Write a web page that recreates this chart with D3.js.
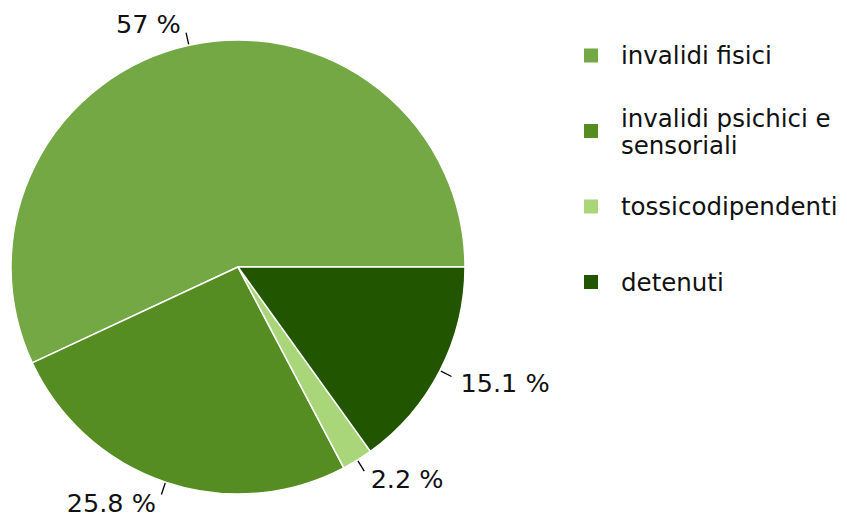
<!DOCTYPE html>
<html>
<head>
<meta charset="utf-8">
<script src="https://cdn.jsdelivr.net/npm/d3@7"></script>
<style>
body{margin:0;background:#fff;}
svg{display:block;font-family:"DejaVu Sans",sans-serif;}
</style>
</head>
<body>
<svg id="svg" width="847" height="517"></svg>
<script>
var categories=['invalidi fisici','invalidi psichici e|sensoriali','tossicodipendenti','detenuti'];
var values=[57,25.8,2.2,15.1];
var colors=['#73a845','#558d23','#aad67a','#225500'];

var svg=d3.select("#svg");
var cx=238,cy=267,r=227;

var data=categories.map(function(c,i){return {name:c,value:values[i],color:colors[i]};});

// start at 3 o'clock, go counterclockwise
var pie=d3.pie().sort(null).value(function(d){return d.value;})
.startAngle(Math.PI/2).endAngle(Math.PI/2-2*Math.PI);

var arc=d3.arc().innerRadius(0).outerRadius(r);

var g=svg.append("g").attr("transform","translate("+cx+","+cy+")");
var arcs=pie(data);

g.selectAll("path").data(arcs).enter()
.append("path")
.attr("d",arc)
.attr("fill",function(d){return d.data.color;})
.attr("stroke","#fff")
.attr("stroke-width",1.5)
.attr("stroke-linejoin","round");

// labels with little ticks
arcs.forEach(function(d){
	var a=(d.startAngle+d.endAngle)/2;
	var sx=Math.sin(a),sy=-Math.cos(a);
	var x1=sx*(r+1),y1=sy*(r+1),x2=sx*(r+13),y2=sy*(r+13);
	g.append("line").attr("x1",x1).attr("y1",y1).attr("x2",x2).attr("y2",y2)
	.attr("stroke","#000").attr("stroke-width",1.3);
	var off=5+5*sx*sx;
	g.append("text")
	.attr("x",x2+(sx>0?off:-off))
	.attr("y",sy<0?y2:y2+13+5*Math.abs(sy))
	.attr("text-anchor",sx>0?"start":"end")
	.attr("font-size",25.5)
	.attr("fill","#111")
	.text(d.data.value+" %");
});

// legend
var legend=svg.append("g");
var ly=d3.scaleLinear().domain([0,3]).range([55.5,282]);
data.forEach(function(d,i){
	var y=ly(i);
	legend.append("rect").attr("x",584).attr("y",y-7).attr("width",14).attr("height",14)
	.attr("fill",d.color);
	var lines=d.name.split("|");
	var t=legend.append("text").attr("font-size",24.5).attr("fill","#111");
	lines.forEach(function(l,j){
		t.append("tspan").attr("x",621)
		.attr("y",lines.length>1?y-4+j*26.5:y+8.5)
		.text(l);
	});
});
</script>
</body>
</html>
